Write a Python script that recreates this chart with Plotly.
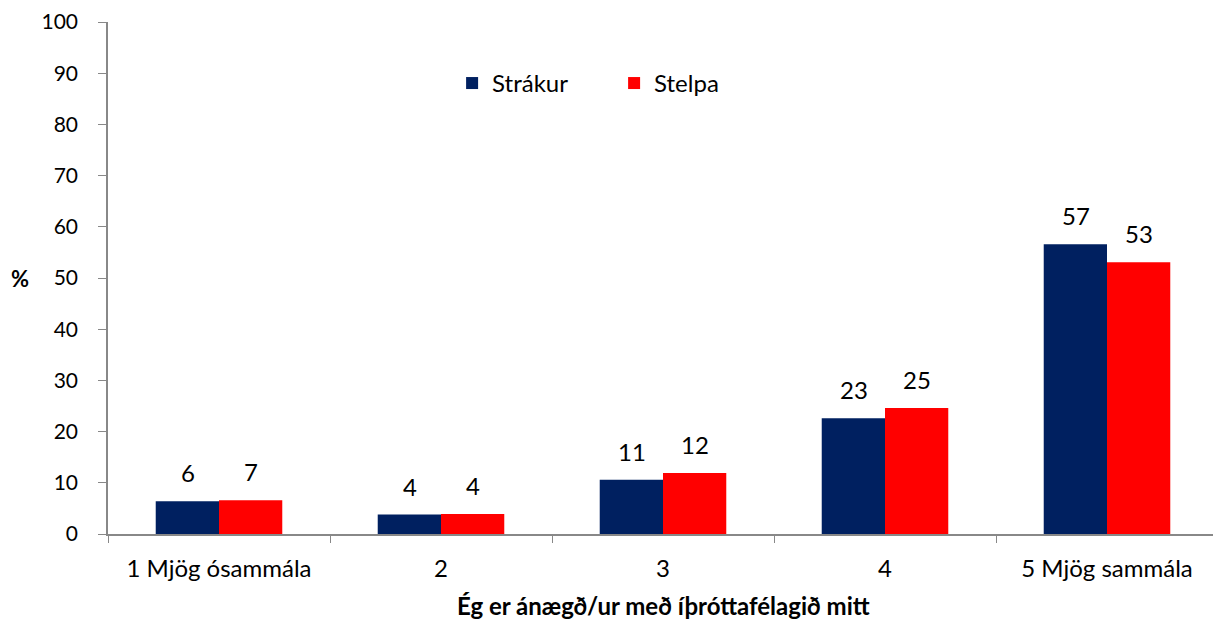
import plotly.graph_objects as go

categories = ["1 Mjög ósammála", "2", "3", "4", "5 Mjög sammála"]
strakur = [6.4, 3.8, 10.6, 22.6, 56.6]
stelpa = [6.6, 3.9, 11.9, 24.6, 53.1]
series_names = ["Strákur", "Stelpa"]
colors = ["#002060", "#FF0000"]

FONT = "Lato, 'Open Sans', sans-serif"
FS = 24

fig = go.Figure()
for name, vals, col in zip(series_names, [strakur, stelpa], colors):
    fig.add_trace(go.Bar(
        x=categories, y=vals, name=name,
        marker=dict(color=col, line=dict(width=0)),
    ))

# data labels above bars (x given as category index)
annotations = []
for vals, shift in [(strakur, -31.5), (stelpa, 31.5)]:
    for i, v in enumerate(vals):
        annotations.append(dict(
            x=i, y=v, xref="x", yref="y", text=f"{round(v):d}",
            showarrow=False, xshift=shift, yanchor="bottom", yshift=12,
            font=dict(size=FS, family=FONT, color="#000000"),
        ))

annotations.append(dict(
    x=0, y=0.5, xref="paper", yref="paper", text="<b>%</b>", showarrow=False,
    xanchor="center", yanchor="middle", xshift=-88,
    font=dict(size=22, family=FONT, color="#000000"),
))
annotations.append(dict(
    x=0.5, y=0, xref="paper", yref="paper",
    text="<b>Ég er ánægð/ur með íþróttafélagið mitt</b>", showarrow=False,
    xanchor="center", yanchor="middle", yshift=-71,
    font=dict(size=FS, family=FONT, color="#000000"),
))

fig.update_layout(
    width=1213, height=616,
    margin=dict(l=100, r=3, t=14, b=90),
    paper_bgcolor="white", plot_bgcolor="white",
    barmode="group", bargap=0.43, bargroupgap=0,
    font=dict(family=FONT, size=FS, color="#000000"),
    showlegend=True,
    legend=dict(orientation="h", x=0.31, y=0.88, xanchor="left", yanchor="middle",
                font=dict(size=FS, family=FONT), traceorder="normal",
                entrywidth=117, bgcolor="rgba(0,0,0,0)"),
    annotations=annotations,
    xaxis=dict(
        automargin=False,
        showline=True, linecolor="#888888", linewidth=1.5,
        ticks="outside", tickson="boundaries", ticklen=7, tickcolor="#888888",
        tickfont=dict(size=FS, family=FONT), ticklabelstandoff=12,
        ticklabeloverflow="allow",
        showgrid=False,
    ),
    yaxis=dict(
        automargin=False,
        range=[0, 100], dtick=10, tick0=0,
        showline=True, linecolor="#888888", linewidth=1.5,
        ticks="outside", ticklen=8, tickcolor="#888888",
        tickfont=dict(size=21, family=FONT), ticklabelstandoff=16,
        ticklabeloverflow="allow",
        showgrid=False, zeroline=False,
    ),
)

fig.write_html("out.html")
